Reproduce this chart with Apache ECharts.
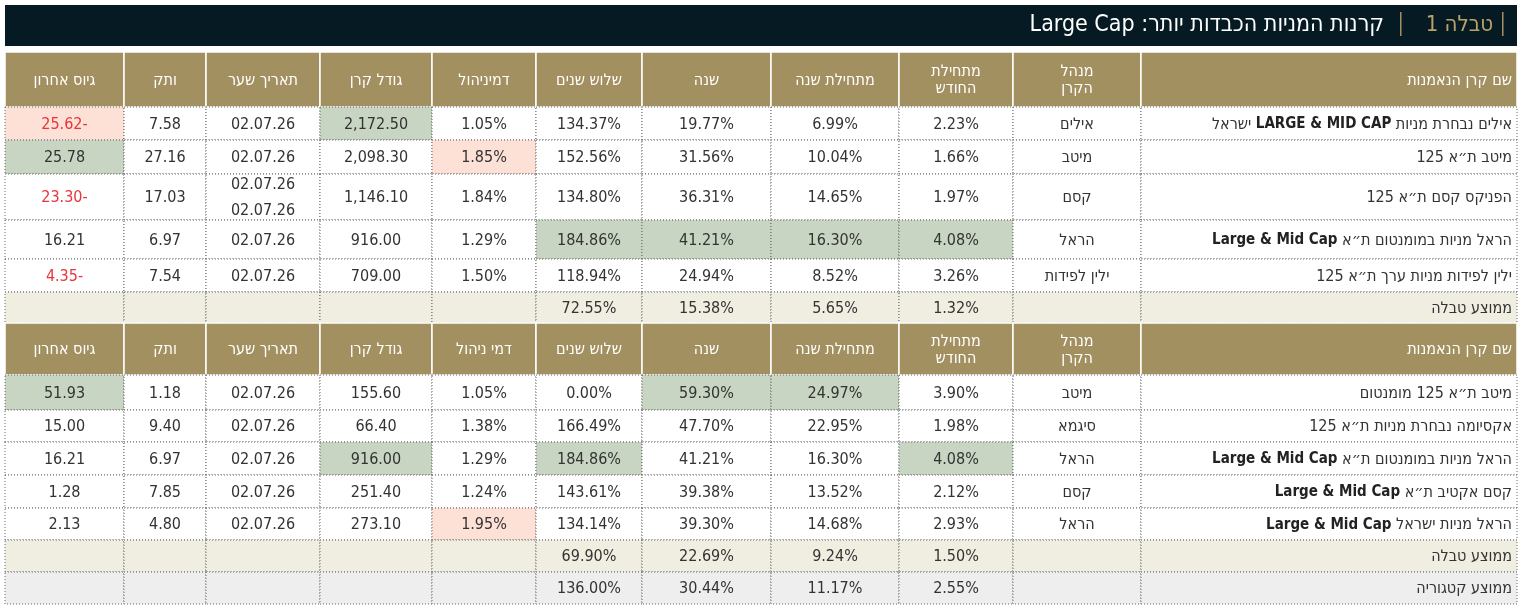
<!DOCTYPE html>
<html dir="rtl"><head><meta charset="utf-8">
<script src="https://cdn.jsdelivr.net/npm/echarts@6/dist/echarts.min.js"></script>
<style>html,body{margin:0;padding:0;background:#fff}#c{width:1522px;height:614px}</style>
</head><body><div id="c"></div>
<script>
// ---- data ----
const titleLabel = 'טבלה 1';
const titleText = 'קרנות המניות הכבדות יותר: Large Cap';
const headers1 = ['גיוס אחרון','ותק','תאריך שער','גודל קרן','דמיניהול','שלוש שנים','שנה','מתחילת שנה','מתחילת\nהחודש','מנהל\nהקרן','שם קרן הנאמנות'];
const headers2 = ['גיוס אחרון','ותק','תאריך שער','גודל קרן','דמי ניהול','שלוש שנים','שנה','מתחילת שנה','מתחילת\nהחודש','מנהל\nהקרן','שם קרן הנאמנות'];

const names1 = ['אילים נבחרת מניות LARGE & MID CAP ישראל','מיטב ת״א 125','הפניקס קסם ת״א 125','הראל מניות במומנטום ת״א Large & Mid Cap','ילין לפידות מניות ערך ת״א 125'];
const managers1 = ['אילים','מיטב','קסם','הראל','ילין לפידות'];
const month1 = ['2.23%','1.66%','1.97%','4.08%','3.26%'];
const ytd1 = ['6.99%','10.04%','14.65%','16.30%','8.52%'];
const year1 = ['19.77%','31.56%','36.31%','41.21%','24.94%'];
const three1 = ['134.37%','152.56%','134.80%','184.86%','118.94%'];
const fee1 = ['1.05%','1.85%','1.84%','1.29%','1.50%'];
const size1 = ['2,172.50','2,098.30','1,146.10','916.00','709.00'];
const date1 = ['02.07.26','02.07.26','02.07.26\n02.07.26','02.07.26','02.07.26'];
const age1 = ['7.58','27.16','17.03','6.97','7.54'];
const raise1 = ['-25.62','25.78','-23.30','16.21','-4.35'];
const avg1 = {label:'ממוצע טבלה', month:'1.32%', ytd:'5.65%', year:'15.38%', three:'72.55%'};

const names2 = ['מיטב ת״א 125 מומנטום','אקסיומה נבחרת מניות ת״א 125','הראל מניות במומנטום ת״א Large & Mid Cap','קסם אקטיב ת״א Large & Mid Cap','הראל מניות ישראל Large & Mid Cap'];
const managers2 = ['מיטב','סיגמא','הראל','קסם','הראל'];
const month2 = ['3.90%','1.98%','4.08%','2.12%','2.93%'];
const ytd2 = ['24.97%','22.95%','16.30%','13.52%','14.68%'];
const year2 = ['59.30%','47.70%','41.21%','39.38%','39.30%'];
const three2 = ['0.00%','166.49%','184.86%','143.61%','134.14%'];
const fee2 = ['1.05%','1.38%','1.29%','1.24%','1.95%'];
const size2 = ['155.60','66.40','916.00','251.40','273.10'];
const date2 = ['02.07.26','02.07.26','02.07.26','02.07.26','02.07.26'];
const age2 = ['1.18','9.40','6.97','7.85','4.80'];
const raise2 = ['51.93','15.00','16.21','1.28','2.13'];
const avg2 = {label:'ממוצע טבלה', month:'1.50%', ytd:'9.24%', year:'22.69%', three:'69.90%'};
const catAvg = {label:'ממוצע קטגוריה', month:'2.55%', ytd:'11.17%', year:'30.44%', three:'136.00%'};

// highlights: [row, col, kind]
const hl1 = [[0,0,'r'],[0,3,'g'],[1,0,'g'],[1,4,'r'],[3,5,'g'],[3,6,'g'],[3,7,'g'],[3,8,'g']];
const hl2 = [[0,0,'g'],[0,6,'g'],[0,7,'g'],[2,3,'g'],[2,5,'g'],[2,8,'g'],[4,4,'r']];

// ---- layout ----
const colEdges = [5,124,206,320,432,536,642,771,899,1013,1141,1517];
const rowEdges1 = [52,107,140,174,220,259,292,323];
const rowEdges2 = [323,375,410,442,475,508,540,572,604];
const GOLD = '#a39060', GREEN = '#c8d5c2', PINK = '#fde0d6', AVG = '#f0ede1', CAT = '#eeeeee';
const FONT = '"DejaVu Sans Condensed","Noto Sans",sans-serif';

function richName(s){
  const parts = s.split(/([A-Za-z][A-Za-z& ]*[A-Za-z])/).map(p=>p.trim()).filter(p=>p.length);
  parts.reverse();
  return parts.map(p=>(/[A-Za-z]/.test(p)?'{b|':'{n|')+p+'}').join('{n| }');
}

const cells = [];
function add(c,r,edges,text,opt){
  cells.push({value:[colEdges[c],colEdges[c+1],edges[r],edges[r+1]], text, ...opt});
}
function buildTable(edges, headers, cols, names, hl, avgs){
  headers.forEach((h,c)=>add(c,0,edges,h,{kind:'head',align:c===10?'right':'center'}));
  for(let r=0;r<names.length;r++){
    for(let c=0;c<10;c++){
      const h = hl.find(x=>x[0]===r&&x[1]===c);
      const txt = cols[c][r];
      add(c,r+1,edges,txt,{kind:'data',fill:h?(h[2]==='g'?GREEN:PINK):'#fff',color:(c===0&&txt.startsWith('-'))?'#e8353a':'#333',align:'center'});
    }
    add(10,r+1,edges,richName(names[r]),{kind:'data',fill:'#fff',color:'#333',align:'right',rich:true});
  }
  avgs.forEach((a,i)=>{
    const r = names.length+1+i;
    for(let c=0;c<11;c++){
      let t='';
      if(c===5)t=a.three; if(c===6)t=a.year; if(c===7)t=a.ytd; if(c===8)t=a.month; if(c===10)t=a.label;
      add(c,r,edges,t,{kind:'data',fill:a===catAvg?CAT:AVG,color:'#333',align:c===10?'right':'center'});
    }
  });
}
buildTable(rowEdges1, headers1, [raise1,age1,date1,size1,fee1,three1,year1,ytd1,month1,managers1], names1, hl1, [avg1]);
buildTable(rowEdges2, headers2, [raise2,age2,date2,size2,fee2,three2,year2,ytd2,month2,managers2], names2, hl2, [avg2,catAvg]);

const chart = echarts.init(document.getElementById('c'));
chart.setOption({
  animation:false,
  grid:{left:0,right:0,top:0,bottom:0},
  xAxis:{type:'value',min:0,max:1522,show:false},
  yAxis:{type:'value',min:0,max:614,inverse:true,show:false},
  graphic:[
    {type:'rect',shape:{x:5,y:5,width:1512,height:41},style:{fill:'#061a23'}},
    {type:'rect',shape:{x:1502,y:12,width:1.5,height:24},style:{fill:GOLD}},
    {type:'text',x:1493,y:25,style:{text:titleLabel,fill:'#b9a36a',font:'22px '+FONT,align:'right',verticalAlign:'middle'}},
    {type:'rect',shape:{x:1400,y:12,width:1.5,height:24},style:{fill:GOLD}},
    {type:'text',x:1384,y:25,style:{text:titleText,fill:'#fff',font:'23px '+FONT,align:'right',verticalAlign:'middle'}}
  ],
  series:[{
    type:'custom',
    data:cells,
    renderItem:(params,api)=>{
      const d = cells[params.dataIndex];
      const p0 = api.coord([d.value[0],d.value[2]]), p1 = api.coord([d.value[1],d.value[3]]);
      const w = p1[0]-p0[0], h = p1[1]-p0[1];
      const head = d.kind==='head';
      const tx = d.align==='right'? p1[0]-5 : p0[0]+w/2;
      return {type:'group',children:[
        {type:'rect',shape:{x:p0[0],y:p0[1],width:w,height:h},
          style:head?{fill:GOLD,stroke:'#fff',lineWidth:1.5}:{fill:d.fill,stroke:'#666',lineWidth:1,lineDash:[1,2]}},
        {type:'text',x:tx,y:p0[1]+h/2+1,style:{
          text:d.text,align:d.align,verticalAlign:'middle',
          fill:head?'#fff':d.color,font:(head?'16px ':'16px ')+FONT,lineHeight:head?17:26,
          rich:d.rich?{n:{font:'16px '+FONT,fill:'#333'},b:{font:'bold 15px '+FONT,fill:'#222'}}:undefined}}
      ]};
    }
  }]
});
</script></body></html>
